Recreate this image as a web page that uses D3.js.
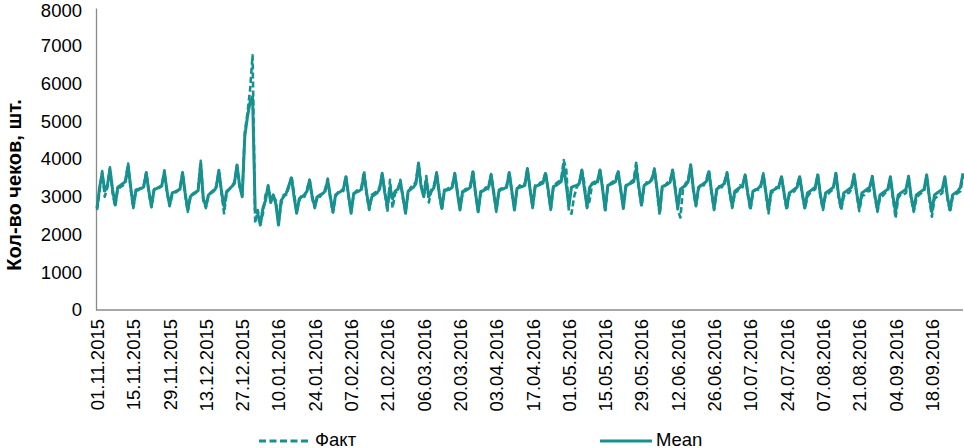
<!DOCTYPE html>
<html>
<head>
<meta charset="utf-8">
<script src="https://cdn.jsdelivr.net/npm/d3@7"></script>
<style>
  html, body { margin: 0; padding: 0; background: #fff; }
  svg { display: block; font-family: "Liberation Sans", Arial, sans-serif; }
</style>
</head>
<body>
<svg id="chart" width="964" height="448"></svg>
<script>
// ---- data (daily, starting 01.11.2015; one row per week Sun..Sat) ----
const startDateLabel = "01.11.2015";
const seriesNames = ["Факт", "Mean"];

const factValues = [
  2650, 3150, 3680, 3000, 3250, 3780, 3100,
  2750, 3200, 3250, 3300, 3450, 3880, 3200,
  2700, 3150, 3180, 3250, 3300, 3650, 3100,
  2720, 3200, 3250, 3230, 3280, 3700, 3100,
  2750, 3050, 3100, 3150, 3230, 3650, 3050,
  2600, 2980, 3050, 3100, 3200, 3950, 2900,
  2700, 3050, 3120, 3180, 3280, 3680, 3100,
  2560, 3100, 3200, 3300, 3380, 3820, 3250,
  3050, 4700, 5200, 5800, 6750, 2300, 2650,
  2350, 2550, 3050, 3250, 2950, 3000, 2900,
  2300, 2800, 3050, 3050, 3250, 3550, 3100,
  2600, 2900, 3050, 3000, 3200, 3450, 2950,
  2700, 3050, 3000, 3100, 3200, 3480, 2950,
  2580, 3000, 3120, 3180, 3150, 3550, 3000,
  2600, 3050, 3150, 3200, 3250, 3680, 3050,
  2650, 3050, 3100, 3150, 3250, 3600, 3150,
  2600, 3450, 2700, 3100, 3150, 3450, 2950,
  2600, 3100, 3250, 3300, 3400, 3900, 3300,
  3050, 3550, 2850, 3200, 3300, 3650, 3050,
  2650, 3150, 3200, 3250, 3300, 3600, 3150,
  2700, 3100, 3200, 3220, 3300, 3700, 3050,
  2620, 3100, 3180, 3250, 3200, 3600, 3150,
  2600, 3180, 3220, 3200, 3300, 3650, 3100,
  2700, 3200, 3300, 3250, 3350, 3720, 3250,
  2700, 3300, 3280, 3380, 3400, 3650, 3150,
  2650, 3250, 3350, 3400, 3450, 3970, 3710,
  2600, 2550, 3000, 3250, 3350, 3700, 3350,
  2700, 2900, 3360, 3400, 3350, 3700, 3250,
  2620, 3250, 3350, 3400, 3450, 3700, 3150,
  2720, 3280, 3300, 3400, 3450, 3930, 3200,
  2750, 3250, 3380, 3350, 3500, 3750, 3150,
  2520, 3250, 3280, 3380, 3400, 3700, 3250,
  2650, 2450, 3200, 3350, 3450, 3850, 3150,
  2750, 3200, 3350, 3300, 3450, 3700, 3100,
  2650, 3150, 3280, 3250, 3400, 3650, 3100,
  2700, 3100, 3150, 3300, 3250, 3600, 3050,
  2650, 3100, 3200, 3180, 3250, 3620, 3050,
  2560, 3100, 3150, 3250, 3230, 3560, 3050,
  2650, 3050, 3100, 3150, 3300, 3550, 3050,
  2680, 3000, 3100, 3150, 3200, 3600, 3000,
  2650, 3050, 3080, 3150, 3200, 3650, 3000,
  2650, 3000, 3100, 3100, 3200, 3600, 3050,
  2620, 3020, 3050, 3150, 3150, 3550, 3000,
  2600, 2980, 3020, 3100, 3150, 3500, 2950,
  2430, 2980, 3050, 3050, 3100, 3550, 2950,
  2600, 2950, 3050, 3100, 3150, 3550, 2950,
  2470, 2950, 3000, 3050, 3100, 3500, 2950,
  2600, 3000, 3050, 3100, 3150, 3550
];

const meanValues = [
  2700, 3250, 3620, 3150, 3300, 3740, 3200,
  2780, 3250, 3300, 3350, 3400, 3820, 3250,
  2740, 3180, 3200, 3220, 3260, 3630, 3150,
  2750, 3180, 3220, 3260, 3300, 3660, 3150,
  2780, 3100, 3130, 3160, 3200, 3630, 3100,
  2650, 3000, 3080, 3120, 3160, 3880, 2950,
  2750, 3050, 3100, 3150, 3250, 3700, 3150,
  2740, 3140, 3200, 3270, 3350, 3840, 3300,
  3000, 4600, 5100, 5500, 5650, 2650, 2550,
  2250, 2700, 2900, 3300, 2850, 3050, 2800,
  2250, 2900, 3000, 3100, 3300, 3500, 3000,
  2560, 2950, 3000, 3050, 3150, 3440, 3000,
  2740, 3000, 3050, 3080, 3150, 3440, 3000,
  2600, 3050, 3100, 3140, 3200, 3530, 3050,
  2560, 3090, 3120, 3150, 3200, 3600, 3100,
  2690, 3000, 3050, 3100, 3200, 3620, 3100,
  2750, 3250, 2950, 3150, 3200, 3400, 3000,
  2560, 3150, 3200, 3250, 3350, 3880, 3270,
  3000, 3450, 3000, 3150, 3250, 3620, 3100,
  2690, 3180, 3180, 3200, 3250, 3620, 3100,
  2650, 3140, 3160, 3200, 3250, 3660, 3100,
  2600, 3140, 3160, 3200, 3250, 3580, 3100,
  2650, 3140, 3200, 3220, 3250, 3640, 3150,
  2650, 3220, 3250, 3270, 3300, 3750, 3200,
  2740, 3270, 3300, 3330, 3360, 3620, 3200,
  2690, 3270, 3300, 3350, 3400, 3800, 3300,
  2750, 3250, 3280, 3300, 3350, 3710, 3200,
  2740, 3250, 3350, 3350, 3400, 3710, 3200,
  2650, 3300, 3330, 3360, 3400, 3660, 3200,
  2690, 3300, 3330, 3360, 3400, 3750, 3250,
  2780, 3300, 3350, 3380, 3450, 3710, 3200,
  2600, 3270, 3300, 3330, 3380, 3710, 3200,
  2700, 3200, 3250, 3300, 3400, 3840, 3200,
  2780, 3250, 3300, 3350, 3400, 3660, 3150,
  2690, 3200, 3250, 3300, 3350, 3620, 3150,
  2740, 3150, 3200, 3250, 3300, 3580, 3100,
  2700, 3150, 3180, 3220, 3300, 3580, 3100,
  2650, 3150, 3180, 3220, 3280, 3530, 3100,
  2700, 3100, 3150, 3200, 3250, 3530, 3100,
  2700, 3100, 3150, 3200, 3250, 3580, 3050,
  2700, 3100, 3150, 3200, 3250, 3620, 3050,
  2700, 3100, 3150, 3200, 3250, 3580, 3100,
  2700, 3100, 3150, 3200, 3250, 3530, 3050,
  2650, 3050, 3100, 3150, 3200, 3530, 3000,
  2600, 3050, 3100, 3150, 3200, 3530, 3000,
  2650, 3050, 3100, 3150, 3200, 3580, 3000,
  2600, 3050, 3100, 3150, 3200, 3530, 3000,
  2650, 3050, 3100, 3150, 3250, 3620
];

const xTickLabels = [
  "01.11.2015", "15.11.2015", "29.11.2015", "13.12.2015", "27.12.2015",
  "10.01.2016", "24.01.2016", "07.02.2016", "21.02.2016", "06.03.2016",
  "20.03.2016", "03.04.2016", "17.04.2016", "01.05.2016", "15.05.2016",
  "29.05.2016", "12.06.2016", "26.06.2016", "10.07.2016", "24.07.2016",
  "07.08.2016", "21.08.2016", "04.09.2016", "18.09.2016"
];
const yTickValues = [0, 1000, 2000, 3000, 4000, 5000, 6000, 7000, 8000];
const yTitle = "Кол-во чеков, шт.";

// ---- drawing ----
const color = "#17918f";
const parse = d3.utcParse("%d.%m.%Y");
const fmt = d3.utcFormat("%d.%m.%Y");
const start = parse(startDateLabel);
const dates = meanValues.map((_, i) => d3.utcDay.offset(start, i));

const svg = d3.select("#chart");
const x = d3.scaleUtc().domain([start, dates[dates.length - 1]]).range([97, 963]);
const y = d3.scaleLinear().domain([0, 8000]).range([310, 8]);

// y axis
const yAxis = svg.append("g").attr("transform", "translate(96,0)")
  .call(d3.axisLeft(y).tickValues(yTickValues).tickSize(0).tickPadding(14).tickFormat(d3.format("d")));
yAxis.select(".domain").attr("stroke", "#8a8a8a").attr("stroke-width", 1.3);
yAxis.selectAll("text").attr("font-size", 18.5).attr("fill", "#000")
  .attr("font-family", "'Liberation Sans', Arial, sans-serif");
yAxis.selectAll(".tick text").filter(d => d === 8000).attr("dy", "0.45em");

// x axis
const xAxis = svg.append("g").attr("transform", "translate(0,310)")
  .call(d3.axisBottom(x).tickValues(xTickLabels.map(parse)).tickSize(0).tickFormat(fmt));
xAxis.select(".domain").attr("stroke", "#8a8a8a").attr("stroke-width", 1.3)
  .attr("d", `M96,0H963`);
xAxis.selectAll(".tick text")
  .attr("font-size", 18.5).attr("fill", "#000")
  .attr("font-family", "'Liberation Sans', Arial, sans-serif")
  .attr("text-anchor", "end")
  .attr("transform", "translate(0,9) rotate(-90)")
  .attr("x", 0).attr("y", 0).attr("dy", "0.35em");

// y title
svg.append("text")
  .attr("transform", "translate(21,185) rotate(-90)")
  .attr("text-anchor", "middle")
  .attr("font-size", 20).attr("font-weight", "bold").attr("fill", "#000")
  .text(yTitle);

// lines
const line = d3.line().x((d, i) => x(dates[i])).y(d => y(d));
svg.append("path").datum(factValues)
  .attr("fill", "none").attr("stroke", color).attr("stroke-width", 2.6)
  .attr("stroke-dasharray", "6,3").attr("stroke-linejoin", "round")
  .attr("d", line);
svg.append("path").datum(meanValues)
  .attr("fill", "none").attr("stroke", color).attr("stroke-width", 3)
  .attr("stroke-linejoin", "round")
  .attr("d", line);

// legend
const legend = [
  { name: seriesNames[0], x1: 259, x2: 311, dash: "7,3.5", w: 2.8 },
  { name: seriesNames[1], x1: 600, x2: 652, dash: null, w: 3 }
];
legend.forEach(l => {
  svg.append("line").attr("x1", l.x1).attr("x2", l.x2).attr("y1", 441).attr("y2", 441)
    .attr("stroke", color).attr("stroke-width", l.w)
    .attr("stroke-dasharray", l.dash);
  svg.append("text").attr("x", l.x2 + 4).attr("y", 446)
    .attr("font-size", 18.5).attr("fill", "#000").text(l.name);
});
</script>
</body>
</html>
